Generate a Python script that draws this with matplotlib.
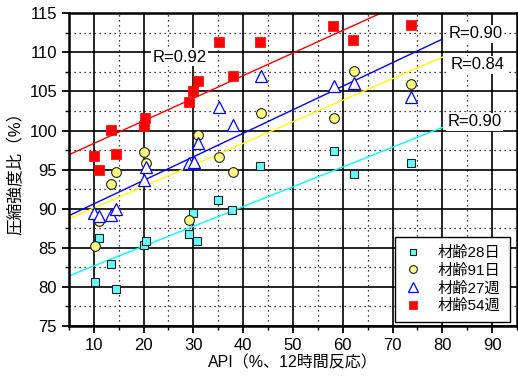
import matplotlib
matplotlib.use("Agg")
import matplotlib.pyplot as plt
from matplotlib.ticker import MultipleLocator

plt.rcParams['font.family'] = ['Liberation Sans', 'Noto Sans CJK JP']

# API (%) and compressive strength ratio (%) for each curing age
age28_x = [10.2, 11.1, 13.4, 14.4, 20.0, 20.4, 29.1, 30.0, 30.7, 35.0, 37.8, 43.3, 58.2, 62.2, 73.7]
age28_y = [80.6, 86.3, 82.9, 79.7, 85.4, 85.9, 86.7, 89.4, 85.8, 91.1, 89.8, 95.5, 97.4, 94.4, 95.8]

age91_x = [10.2, 11.1, 13.4, 14.4, 20.0, 20.4, 29.1, 30.9, 35.2, 38.0, 43.5, 58.2, 62.2, 73.7]
age91_y = [85.2, 88.4, 93.2, 94.7, 97.3, 95.9, 88.5, 99.4, 96.6, 94.7, 102.2, 101.6, 107.6, 105.9]

wk27_x = [10.0, 11.1, 13.4, 14.4, 20.0, 20.4, 29.1, 30.1, 30.9, 35.1, 38.0, 43.5, 58.2, 62.2, 73.7]
wk27_y = [89.4, 89.0, 89.2, 90.0, 93.7, 95.3, 95.8, 96.0, 98.4, 103.0, 100.7, 107.0, 105.7, 106.1, 104.3]

wk54_x = [10.0, 11.1, 13.4, 14.4, 20.0, 20.3, 29.1, 30.0, 31.0, 35.1, 37.9, 43.3, 58.1, 62.1, 73.7]
wk54_y = [96.7, 95.0, 100.1, 97.0, 100.6, 101.6, 103.6, 105.1, 106.4, 111.3, 107.0, 111.3, 113.4, 111.6, 113.5]

# regression lines (end points)
fit_x = [5, 80]
fit28 = [81.4, 100.4]
fit91 = [88.7, 109.4]
fit27 = [89.1, 111.7]
fit54 = [96.9, 118.6]

labels = ["材齢28日", "材齢91日", "材齢27週", "材齢54週"]
r_texts = ["R=0.92", "R=0.90", "R=0.84", "R=0.90"]

fig = plt.figure(figsize=(5.18, 3.82), dpi=100)
ax = fig.add_axes([0.133, 0.147, 0.865, 0.818])

ax.plot(fit_x, fit28, color="#00FFFF", lw=1, zorder=2)
ax.plot(fit_x, fit91, color="#FFFF00", lw=1, zorder=2)
ax.plot(fit_x, fit27, color="#0000FF", lw=1, zorder=2)
ax.plot(fit_x, fit54, color="#FF0000", lw=1, zorder=2)

ax.plot(age28_x, age28_y, "s", ms=6, mfc="#66FFFF", mec="#222222", mew=0.8,
        label=labels[0], zorder=3)
ax.plot(age91_x, age91_y, "o", ms=7, mfc="#FFFF80", mec="#222222", mew=0.8,
        label=labels[1], zorder=3)
ax.plot(wk27_x, wk27_y, "^", ms=8.5, mfc="white", mec="#0000FF", mew=0.9,
        label=labels[2], zorder=4)
ax.plot(wk54_x, wk54_y, "s", ms=6.5, mfc="#FF0000", mec="#FF0000", mew=0.5,
        label=labels[3], zorder=4)

box = dict(facecolor="white", edgecolor="none", pad=1)
ax.text(27.3, 109.4, r_texts[0], fontsize=12, ha="center", va="center", bbox=box, zorder=5)
ax.text(81.3, 112.4, r_texts[1], fontsize=12, ha="left", va="center", bbox=box, zorder=5)
ax.text(81.7, 108.4, r_texts[2], fontsize=12, ha="left", va="center", bbox=box, zorder=5)
ax.text(81.0, 101.1, r_texts[3], fontsize=12, ha="left", va="center", bbox=box, zorder=5)

ax.set_xlim(5, 95)
ax.set_ylim(75, 115)
ax.xaxis.set_major_locator(MultipleLocator(10))
ax.xaxis.set_minor_locator(MultipleLocator(5))
ax.yaxis.set_major_locator(MultipleLocator(5))
ax.yaxis.set_minor_locator(MultipleLocator(2.5))
ax.grid(which="major", color="black", lw=1.2, zorder=1)
ax.grid(which="minor", color="black", lw=0.9, ls=(0, (1, 3)), zorder=1)
ax.set_axisbelow(True)
ax.tick_params(which="major", direction="out", length=5, width=1.3, labelsize=12)
ax.tick_params(which="minor", direction="out", length=3, width=1.0)
for s in ax.spines.values():
    s.set_linewidth(1.8)

ax.set_xlabel("API（%、12時間反応）", fontsize=11.5, labelpad=2)
ax.set_ylabel("圧縮強度比（%）", fontsize=12, labelpad=4)

leg = ax.legend(loc="lower right", bbox_to_anchor=(0.984, 0.012), borderaxespad=0,
                fancybox=False, edgecolor="black", framealpha=1, fontsize=11,
                markerscale=0.8, handlelength=1.2, handletextpad=1.0,
                labelspacing=0.22, borderpad=0.6)
leg.get_frame().set_linewidth(1.0)

fig.savefig("out.png", dpi=100)
